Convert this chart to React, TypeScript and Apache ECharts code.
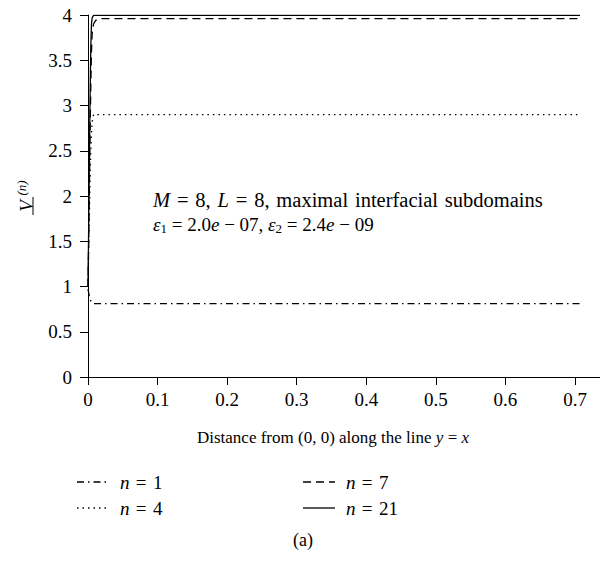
import React, { useEffect, useRef } from "react";
import * as echarts from "echarts";

const xTicks = [0, 0.1, 0.2, 0.3, 0.4, 0.5, 0.6, 0.7];
const yTicks = [0, 0.5, 1, 1.5, 2, 2.5, 3, 3.5, 4];

const seriesN1: [number, number][] = [
  [0, 0.97], [0.001, 0.93], [0.002, 0.89], [0.003, 0.86], [0.004, 0.84], [0.006, 0.82], [0.008, 0.81], [0.707, 0.81],
];
const seriesN4: [number, number][] = [
  [0, 1.0], [0.001, 1.4], [0.002, 1.8], [0.003, 2.2], [0.004, 2.5], [0.005, 2.7], [0.006, 2.82], [0.008, 2.9], [0.707, 2.9],
];
const seriesN7: [number, number][] = [
  [0, 1.0], [0.001, 1.5], [0.002, 2.1], [0.003, 2.7], [0.004, 3.2], [0.005, 3.6], [0.006, 3.8], [0.008, 3.9], [0.011, 3.94], [0.016, 3.96], [0.707, 3.96],
];
const seriesN21: [number, number][] = [
  [0, 1.0], [0.001, 1.7], [0.002, 2.4], [0.003, 3.1], [0.004, 3.65], [0.005, 3.9], [0.006, 3.97], [0.008, 3.995], [0.707, 3.995],
];

const legendNames = ["n = 1", "n = 4", "n = 7", "n = 21"];

const FONT = "'Liberation Serif', 'DejaVu Serif', serif";
const SP = "\u2004";

export default function App() {
  const ref = useRef<HTMLDivElement>(null);
  useEffect(() => {
    if (!ref.current) return;
    const chart = echarts.init(ref.current, null, { renderer: "svg" });
    const dashDot = [7, 4, 1.5, 4];
    const dotted = [1.5, 4];
    const dashed = [8, 5];
    const mk = (name: string, data: [number, number][], type: any) => ({
      name,
      type: "line",
      data,
      showSymbol: false,
      symbol: "none",
      lineStyle: { color: "#000", width: 1.3, type },
      itemStyle: { color: "#000" },
    });
    const legendItems = [
      { x: 77, y: 482, type: dashDot, label: "1" },
      { x: 77, y: 508, type: dotted, label: "4" },
      { x: 303, y: 482, type: dashed, label: "7" },
      { x: 303, y: 508, type: "solid", label: "21" },
    ];
    const graphic: any[] = [];
    legendItems.forEach((it) => {
      graphic.push({
        type: "line",
        shape: { x1: it.x, y1: it.y, x2: it.x + 32, y2: it.y },
        style: { stroke: "#000", lineWidth: 1.3, lineDash: it.type === "solid" ? null : it.type },
      });
      graphic.push({
        type: "text",
        x: it.x + 43,
        y: it.y,
        style: {
          text: "{i|n}" + SP + "=" + SP + it.label,
          fontFamily: FONT,
          fontSize: 19,
          fill: "#000",
          verticalAlign: "middle",
          rich: { i: { fontStyle: "italic", fontFamily: FONT, fontSize: 19 } },
        },
      });
    });
    // axis name
    graphic.push({
      type: "text",
      x: 333,
      y: 437,
      style: {
        text: "Distance from (0, 0) along the line {i|y} = {i|x}",
        fontFamily: FONT,
        fontSize: 17,
        fill: "#000",
        align: "center",
        verticalAlign: "middle",
        rich: { i: { fontStyle: "italic", fontFamily: FONT, fontSize: 17 } },
      },
    });
    // y label
    graphic.push({
      type: "text",
      x: 26,
      y: 206,
      rotation: Math.PI / 2,
      style: {
        text: "V",
        fontFamily: FONT,
        fontStyle: "italic",
        fontSize: 19,
        fill: "#000",
        align: "center",
        verticalAlign: "middle",
      },
    });
    graphic.push({
      type: "text",
      x: 21,
      y: 188,
      rotation: Math.PI / 2,
      style: {
        text: "(n)",
        fontFamily: FONT,
        fontStyle: "italic",
        fontSize: 13,
        fill: "#000",
        align: "center",
        verticalAlign: "middle",
      },
    });
    graphic.push({
      type: "line",
      shape: { x1: 33, y1: 197, x2: 33, y2: 215 },
      style: { stroke: "#000", lineWidth: 1 },
    });
    // annotation
    graphic.push({
      type: "text",
      x: 153,
      y: 200,
      style: {
        text: `{i|M}${SP}=${SP}8,${SP}{i|L}${SP}=${SP}8,${SP}maximal${SP}interfacial${SP}subdomains`,
        fontFamily: FONT,
        fontSize: 20.5,
        fill: "#000",
        verticalAlign: "middle",
        rich: { i: { fontStyle: "italic", fontFamily: FONT, fontSize: 20.5 } },
      },
    });
    graphic.push({
      type: "text",
      x: 153,
      y: 224,
      style: {
        text: "{i|ε}{s|1} = 2.0{i|e} − 07, {i|ε}{s|2} = 2.4{i|e} − 09",
        fontFamily: FONT,
        fontSize: 19,
        fill: "#000",
        verticalAlign: "middle",
        lineHeight: 22,
        rich: {
          i: { fontStyle: "italic", fontFamily: FONT, fontSize: 19, lineHeight: 22 },
          s: { fontFamily: FONT, fontSize: 13, lineHeight: 14, verticalAlign: "bottom" },
        },
      },
    });
    graphic.push({
      type: "text",
      x: 303,
      y: 540,
      style: {
        text: "(a)",
        fontFamily: FONT,
        fontSize: 18,
        fill: "#000",
        align: "center",
        verticalAlign: "middle",
      },
    });

    chart.setOption({
      animation: false,
      backgroundColor: "#fff",
      grid: { left: 88, top: 15, right: 0, bottom: 188, containLabel: false },
      xAxis: {
        type: "value",
        min: 0,
        max: 0.743,
        interval: 0.1,
        axisLine: { lineStyle: { color: "#000", width: 1 } },
        axisTick: { length: 8, lineStyle: { color: "#000" } },
        splitLine: { show: false },
        axisLabel: {
          color: "#000",
          fontFamily: FONT,
          fontSize: 19,
          margin: 13,
          formatter: (v: number) => {
            const m = xTicks.find((t) => Math.abs(t - v) < 1e-9);
            return m === undefined ? "" : String(m);
          },
        },
      },
      yAxis: {
        type: "value",
        min: 0,
        max: 4,
        interval: 0.5,
        axisLine: { show: true, lineStyle: { color: "#000", width: 1 } },
        axisTick: { show: true, length: 8, lineStyle: { color: "#000" } },
        splitLine: { show: false },
        axisLabel: {
          color: "#000",
          fontFamily: FONT,
          fontSize: 19,
          margin: 16,
          formatter: (v: number) => {
            const m = yTicks.find((t) => Math.abs(t - v) < 1e-9);
            return m === undefined ? "" : String(m);
          },
        },
      },
      series: [
        mk(legendNames[0], seriesN1, dashDot),
        mk(legendNames[1], seriesN4, dotted),
        mk(legendNames[2], seriesN7, dashed),
        mk(legendNames[3], seriesN21, "solid"),
      ],
      graphic,
    });
    return () => chart.dispose();
  }, []);
  return <div ref={ref} style={{ width: 608, height: 565, margin: -8 }} />;
}
